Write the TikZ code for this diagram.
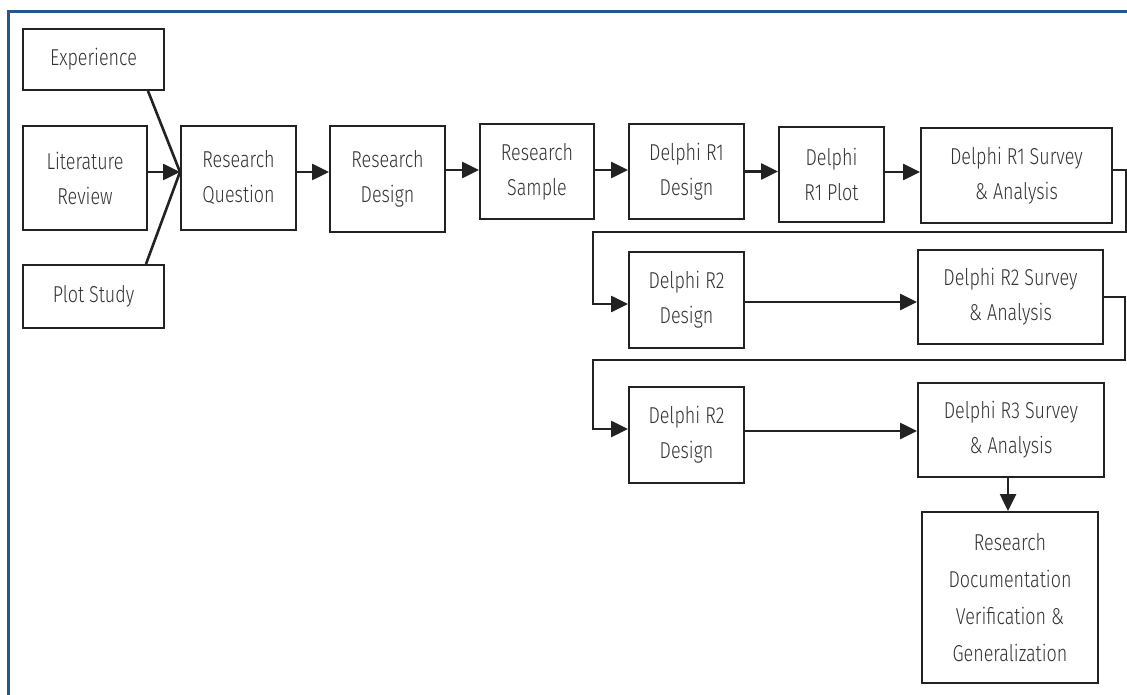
\documentclass[tikz,border=0pt]{standalone}
\usepackage{fontspec}
\setmainfont{Fira Sans}[UprightFont=* Light, FakeStretch=0.78]
\usetikzlibrary{arrows.meta}
\definecolor{frameblue}{RGB}{37,86,140}
\definecolor{inkline}{RGB}{34,34,34}
\definecolor{inktext}{RGB}{51,51,51}
\begin{document}
\begin{tikzpicture}[x=1pt,y=-1pt,
  stage/.style={draw=inkline, line width=2pt, rectangle, inner sep=0pt,
    align=center, text=inktext, font={\fontsize{23}{35}\selectfont}},
  link/.style={draw=inkline, line width=2.6pt},
  arr/.style={link, -{Triangle[length=17pt,width=16pt]}}]
\useasboundingbox (0,0) rectangle (1127,695);
% outer frame, open to the right and bottom
\draw[frameblue, line width=3pt] (8,695) -- (8,12) -- (1127,12);

% first row
\node[stage, minimum width=141pt, minimum height=61pt]  (exp)  at (93.5,59.5)  {Experience};
\node[stage, minimum width=124pt, minimum height=104pt] (lit)  at (85,178)     {Literature\\Review};
\node[stage, minimum width=141pt, minimum height=63pt]  (plot) at (93.5,296.5) {Plot Study};
\node[stage, minimum width=115pt, minimum height=104pt] (rq)   at (238.5,178)  {Research\\Question};
\node[stage, minimum width=115pt, minimum height=106pt] (rd)   at (387.5,179)  {Research\\Design};
\node[stage, minimum width=114pt, minimum height=95pt]  (rs)   at (537,171.5)  {Research\\Sample};
\node[stage, minimum width=115pt, minimum height=95pt]  (d1d)  at (686.5,171.5){Delphi R1\\Design};
\node[stage, minimum width=105pt, minimum height=95pt]  (d1p)  at (831.5,174.5){Delphi\\R1 Plot};
\node[stage, minimum width=191pt, minimum height=95pt]  (d1s)  at (1016.5,175.5){Delphi R1 Survey\\\& Analysis};

% second row
\node[stage, minimum width=115pt, minimum height=96pt]  (d2d)  at (686.5,300)  {Delphi R2\\Design};
\node[stage, minimum width=185pt, minimum height=94pt]  (d2s)  at (1010.5,297) {Delphi R2 Survey\\\& Analysis};

% third row
\node[stage, minimum width=115pt, minimum height=96pt]  (d3d)  at (686.5,435)  {Delphi R2\\Design};
\node[stage, minimum width=186pt, minimum height=94pt]  (d3s)  at (1011,430)   {Delphi R3 Survey\\\& Analysis};
\node[stage, minimum width=176pt, minimum height=171pt, font={\fontsize{23}{37}\selectfont}]
  (doc) at (1010,597.5) {Research\\Documentation\\Verification \&\\Generalization};

% inputs converging on the research question
\coordinate (meet) at ([yshift=6pt]rq.west);
\draw[link] ([xshift=54.5pt]exp.south) -- (meet);
\draw[link] ([xshift=52.5pt]plot.north) -- (meet);
\draw[arr] ([yshift=6pt]lit.east) -- (meet);

% main chain
\draw[arr] ([yshift=6pt]rq.east) -- ([yshift=6pt]rq.east -| rd.west);
\draw[arr] ([yshift=9pt]rd.east) -- ([yshift=9pt]rd.east -| rs.west);
\draw[arr] ([yshift=1.5pt]rs.east) -- ([yshift=1.5pt]rs.east -| d1d.west);
\draw[arr] (d1d.east) -- (d1d.east -| d1p.west);
\draw[arr] ([yshift=2.5pt]d1p.east) -- ([yshift=2.5pt]d1p.east -| d1s.west);

% return loops between rows
\coordinate (loopL) at (593,0);
\coordinate (loopA) at (1126,232);
\coordinate (loopB) at (1125,360);
\draw[arr, line join=miter] ([yshift=5.5pt]d1s.east) -| (loopA) -- (loopA -| loopL)
  |- ([yshift=-4pt]d2d.west);
\draw[arr] ([yshift=-2pt]d2d.east) -- ([yshift=-2pt]d2d.east -| d2s.west);
\draw[arr, line join=miter] (d2s.east) -| (loopB) -- (loopB -| loopL)
  |- ([yshift=6pt]d3d.west);
\draw[arr] ([yshift=4pt]d3d.east) -- ([yshift=4pt]d3d.east -| d3s.west);
\draw[arr] ([xshift=-3pt]d3s.south) -- ([xshift=-3pt]d3s.south |- doc.north);
\end{tikzpicture}
\end{document}
